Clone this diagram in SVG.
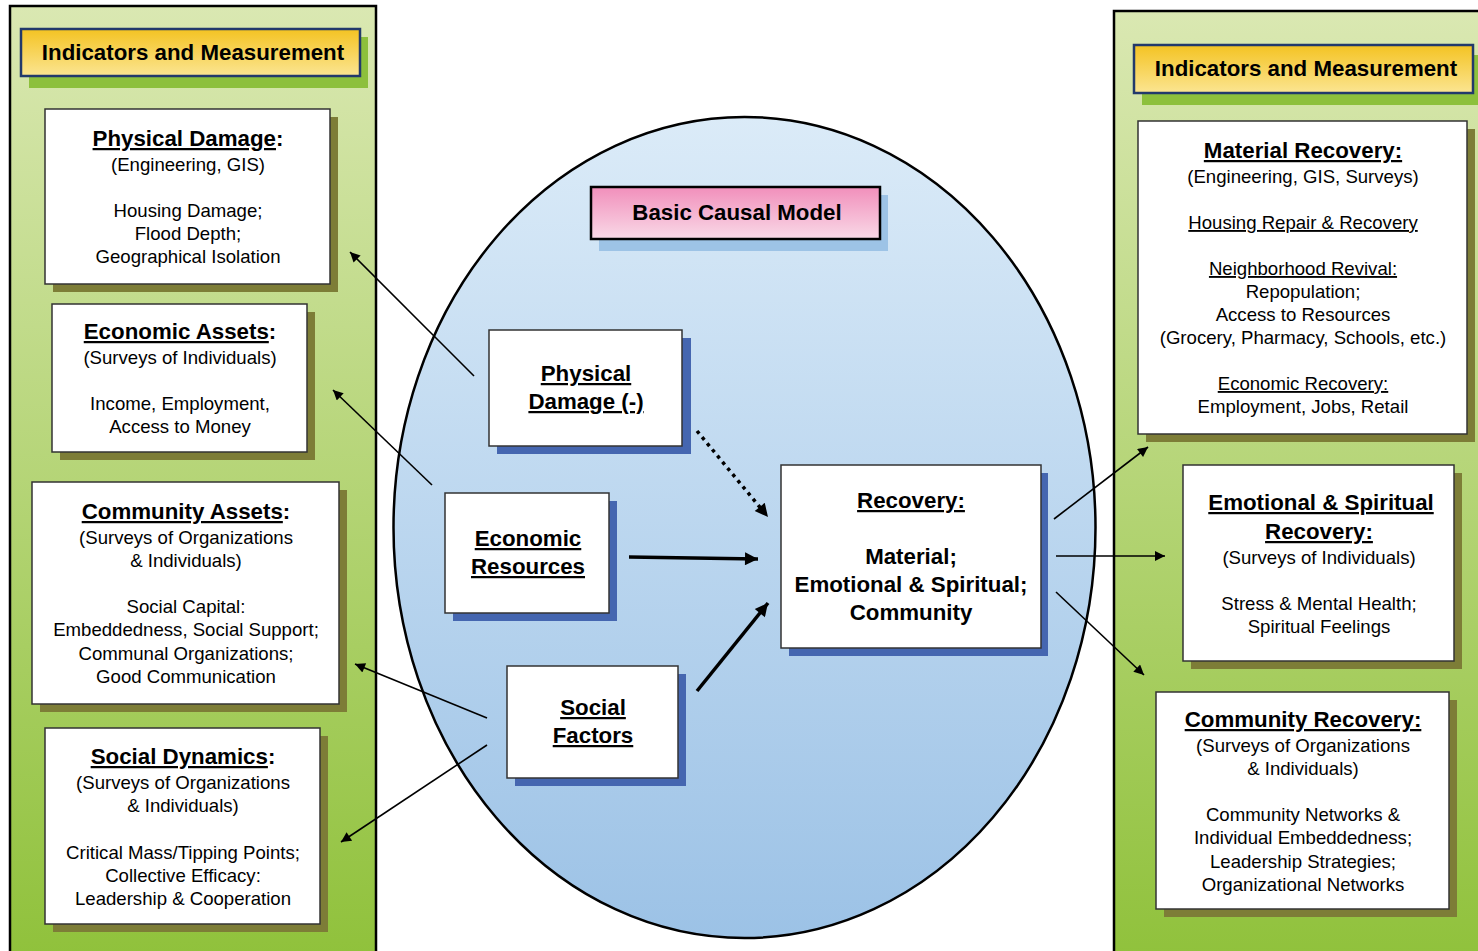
<svg xmlns="http://www.w3.org/2000/svg" width="1478" height="951" viewBox="0 0 1478 951">
<defs>
<linearGradient id="gPanel" x1="0" y1="0" x2="0" y2="1">
<stop offset="0" stop-color="#dae8b2"/>
<stop offset="1" stop-color="#8fc13a"/>
</linearGradient>
<linearGradient id="gGold" x1="0" y1="0" x2="0" y2="1">
<stop offset="0" stop-color="#f4c322"/>
<stop offset="1" stop-color="#fbe592"/>
</linearGradient>
<linearGradient id="gPink" x1="0" y1="0" x2="0" y2="1">
<stop offset="0" stop-color="#f18fbb"/>
<stop offset="1" stop-color="#f9d9e7"/>
</linearGradient>
<linearGradient id="gBlue" x1="0" y1="0" x2="0" y2="1">
<stop offset="0" stop-color="#dbebf8"/>
<stop offset="1" stop-color="#9cc2e6"/>
</linearGradient>
<marker id="aThin" viewBox="0 0 10 10" refX="10" refY="5" markerWidth="14" markerHeight="10" markerUnits="userSpaceOnUse" orient="auto">
<path d="M0,0 L10,5 L0,10 z" fill="#000"/>
</marker>
<marker id="aThick" viewBox="0 0 10 10" refX="10" refY="5" markerWidth="17" markerHeight="13" markerUnits="userSpaceOnUse" orient="auto">
<path d="M0,0 L10,5 L0,10 z" fill="#000"/>
</marker>
</defs>
<style>
.panel{fill:url(#gPanel);stroke:#000;stroke-width:2.5}
.hdr{fill:url(#gGold);stroke:#22396b;stroke-width:2.5}
.hdrsh{fill:#8dc03c}
.box{fill:#fff;stroke:#333;stroke-width:1.5}
.osh{fill:#7d7d37}
.bsh{fill:#4566b0}
.t{font-family:"Liberation Sans",Arial,sans-serif;fill:#000;text-anchor:middle}
.h{font-size:22.3px;font-weight:bold}
.ti{font-size:22.3px;font-weight:bold}
.b{font-size:18.6px}
.u{text-decoration:underline}
.thin{stroke:#000;stroke-width:1.6;fill:none;marker-end:url(#aThin)}
.thick{stroke:#000;stroke-width:3.5;fill:none;marker-end:url(#aThick)}
</style>

<g id="left-panel">
<rect class="panel" x="10" y="6" width="366" height="960"/>
</g>
<g id="right-panel">
<rect class="panel" x="1114" y="11" width="380" height="960"/>
</g>
<g id="causal-ellipse">
<ellipse cx="744.5" cy="527.5" rx="351" ry="410.5" fill="url(#gBlue)" stroke="#000" stroke-width="2.5"/>
</g>

<g id="left-header">
<rect class="hdrsh" x="29" y="37" width="339" height="51"/>
<rect class="hdr" x="21" y="29" width="339" height="47"/>
<text class="t h" x="193" y="60">Indicators and Measurement</text>
</g>
<g id="right-header">
<rect class="hdrsh" x="1142" y="55" width="340" height="50"/>
<rect class="hdr" x="1134" y="45" width="339" height="48"/>
<text class="t h" x="1306" y="76">Indicators and Measurement</text>
</g>

<g id="physical-damage-ind">
<rect class="osh" x="53" y="117" width="285" height="175"/>
<rect class="box" x="45" y="109" width="285" height="175"/>
<text class="t ti" x="188" y="146"><tspan class="u">Physical Damage</tspan>:</text>
<text class="t b" x="188" y="171">(Engineering, GIS)</text>
<text class="t b" x="188" y="217">Housing Damage;</text>
<text class="t b" x="188" y="240">Flood Depth;</text>
<text class="t b" x="188" y="263">Geographical Isolation</text>
</g>

<g id="economic-assets-ind">
<rect class="osh" x="60" y="312" width="255" height="148"/>
<rect class="box" x="52" y="304" width="255" height="148"/>
<text class="t ti" x="180" y="339"><tspan class="u">Economic Assets</tspan>:</text>
<text class="t b" x="180" y="364">(Surveys of Individuals)</text>
<text class="t b" x="180" y="410">Income, Employment,</text>
<text class="t b" x="180" y="433">Access to Money</text>
</g>

<g id="community-assets-ind">
<rect class="osh" x="40" y="490" width="307" height="222"/>
<rect class="box" x="32" y="482" width="307" height="222"/>
<text class="t ti" x="186" y="519"><tspan class="u">Community Assets</tspan>:</text>
<text class="t b" x="186" y="544">(Surveys of Organizations</text>
<text class="t b" x="186" y="567">&amp; Individuals)</text>
<text class="t b" x="186" y="613">Social Capital:</text>
<text class="t b" x="186" y="636">Embeddedness, Social Support;</text>
<text class="t b" x="186" y="660">Communal Organizations;</text>
<text class="t b" x="186" y="683">Good Communication</text>
</g>

<g id="social-dynamics-ind">
<rect class="osh" x="53" y="736" width="275" height="196"/>
<rect class="box" x="45" y="728" width="275" height="196"/>
<text class="t ti" x="183" y="764"><tspan class="u">Social Dynamics</tspan>:</text>
<text class="t b" x="183" y="789">(Surveys of Organizations</text>
<text class="t b" x="183" y="812">&amp; Individuals)</text>
<text class="t b" x="183" y="859">Critical Mass/Tipping Points;</text>
<text class="t b" x="183" y="882">Collective Efficacy:</text>
<text class="t b" x="183" y="905">Leadership &amp; Cooperation</text>
</g>

<g id="material-recovery-ind">
<rect class="osh" x="1146" y="129" width="329" height="313"/>
<rect class="box" x="1138" y="121" width="329" height="313"/>
<text class="t ti u" x="1303" y="158">Material Recovery:</text>
<text class="t b" x="1303" y="183">(Engineering, GIS, Surveys)</text>
<text class="t b u" x="1303" y="229">Housing Repair &amp; Recovery</text>
<text class="t b u" x="1303" y="275">Neighborhood Revival:</text>
<text class="t b" x="1303" y="298">Repopulation;</text>
<text class="t b" x="1303" y="321">Access to Resources</text>
<text class="t b" x="1303" y="344">(Grocery, Pharmacy, Schools, etc.)</text>
<text class="t b u" x="1303" y="390">Economic Recovery:</text>
<text class="t b" x="1303" y="413">Employment, Jobs, Retail</text>
</g>

<g id="emotional-recovery-ind">
<rect class="osh" x="1191" y="473" width="271" height="196"/>
<rect class="box" x="1183" y="465" width="271" height="196"/>
<text class="t ti u" x="1321" y="510">Emotional &amp; Spiritual</text>
<text class="t ti u" x="1319" y="539">Recovery:</text>
<text class="t b" x="1319" y="564">(Surveys of Individuals)</text>
<text class="t b" x="1319" y="610">Stress &amp; Mental Health;</text>
<text class="t b" x="1319" y="633">Spiritual Feelings</text>
</g>

<g id="community-recovery-ind">
<rect class="osh" x="1164" y="700" width="293" height="217"/>
<rect class="box" x="1156" y="692" width="293" height="217"/>
<text class="t ti u" x="1303" y="727">Community Recovery:</text>
<text class="t b" x="1303" y="752">(Surveys of Organizations</text>
<text class="t b" x="1303" y="775">&amp; Individuals)</text>
<text class="t b" x="1303" y="821">Community Networks &amp;</text>
<text class="t b" x="1303" y="844">Individual Embeddedness;</text>
<text class="t b" x="1303" y="868">Leadership Strategies;</text>
<text class="t b" x="1303" y="891">Organizational Networks</text>
</g>

<g id="connectors">
<line class="thin" x1="474" y1="376" x2="350" y2="252"/>
<line class="thin" x1="432" y1="485" x2="333" y2="390"/>
<line class="thin" x1="487" y1="718" x2="355" y2="664"/>
<line class="thin" x1="487" y1="745" x2="341" y2="842"/>
<line class="thick" x1="697" y1="431" x2="768" y2="517" style="stroke-dasharray:3.5 4.5"/>
<line class="thick" x1="629" y1="557" x2="758" y2="559"/>
<line class="thick" x1="697" y1="691" x2="768" y2="603"/>
<line class="thin" x1="1054" y1="519" x2="1148" y2="447"/>
<line class="thin" x1="1056" y1="556" x2="1165" y2="556"/>
<line class="thin" x1="1056" y1="592" x2="1144" y2="675"/>
</g>

<g id="basic-causal-model">
<rect x="599" y="195" width="289" height="56" fill="#9dc3e6"/>
<rect x="591" y="187" width="289" height="52" fill="url(#gPink)" stroke="#000" stroke-width="2.5"/>
<text class="t" x="737" y="220" style="font-size:22.3px;font-weight:bold">Basic Causal Model</text>
</g>

<g id="physical-damage">
<rect class="bsh" x="497" y="338" width="194" height="116"/>
<rect class="box" x="489" y="330" width="193" height="116"/>
<text class="t ti u" x="586" y="381">Physical</text>
<text class="t ti u" x="586" y="409">Damage (-)</text>
</g>

<g id="economic-resources">
<rect class="bsh" x="453" y="501" width="164" height="120"/>
<rect class="box" x="445" y="493" width="164" height="120"/>
<text class="t ti u" x="528" y="546">Economic</text>
<text class="t ti u" x="528" y="574">Resources</text>
</g>

<g id="social-factors">
<rect class="bsh" x="515" y="674" width="171" height="112"/>
<rect class="box" x="507" y="666" width="171" height="112"/>
<text class="t ti u" x="593" y="715">Social</text>
<text class="t ti u" x="593" y="743">Factors</text>
</g>

<g id="recovery">
<rect class="bsh" x="789" y="473" width="259" height="183"/>
<rect class="box" x="781" y="465" width="260" height="183"/>
<text class="t ti u" x="911" y="508">Recovery:</text>
<text class="t ti" x="911" y="564">Material;</text>
<text class="t ti" x="911" y="592">Emotional &amp; Spiritual;</text>
<text class="t ti" x="911" y="620">Community</text>
</g>
</svg>
